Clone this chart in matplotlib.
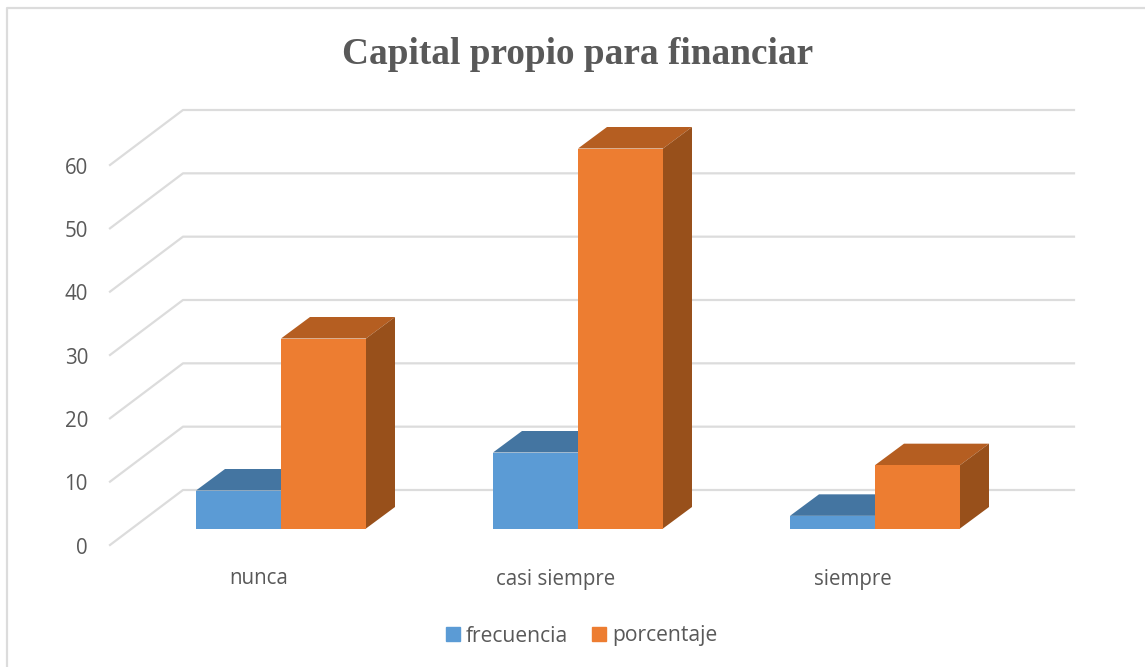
import matplotlib
matplotlib.use("Agg")
import matplotlib.pyplot as plt
from matplotlib.patches import Polygon, Patch
from matplotlib.transforms import Affine2D

categories = ["nunca", "casi siempre", "siempre"]
frecuencia = [6, 12, 2]
porcentaje = [30, 60, 10]
y_ticks = [0, 10, 20, 30, 40, 50, 60]

W, H = 1145, 667
BAR_W = 85 / 297
DEPTH = (29, 21.5)
FRONT = (-22.5, -16.5)
BACK = (50.5, 38.5)
GRID = "#dcdcdc"
TEXT = "#595959"

plt.rcParams["font.family"] = ["Open Sans", "DejaVu Sans"]

fig = plt.figure(figsize=(W / 100, H / 100), dpi=100)
ax = fig.add_axes([132.5 / W, (H - 528.5) / H, 891 / W, 380 / H])
ax.set_xlim(-0.5, 2.5)
ax.set_ylim(0, 60)
ax.axis("off")


def shifted(dx, dy):
    return ax.transData + Affine2D().translate(dx, dy)


def to_px(x, y, dx=0, dy=0):
    px, py = ax.transData.transform((x, y))
    return px + dx, py + dy


# chart frame, only left and top show up in the picture
fig.add_artist(plt.Line2D([6.5 / W, 6.5 / W, 1], [0, (H - 7.5) / H, (H - 7.5) / H],
                          color=GRID, lw=1.6, transform=fig.transFigure))

# walls: floor diagonal + back line for every tick
for t in y_ticks:
    a = to_px(-0.5, t, *FRONT)
    b = to_px(-0.5, t, *BACK)
    c = to_px(2.5, t, *BACK)
    ax.add_line(plt.Line2D([a[0], b[0], c[0]], [a[1], b[1], c[1]], color=GRID, lw=1.6,
                           transform=None, clip_on=False, zorder=1))
    ax.text(-0.5, t, str(t), transform=shifted(-44.5, -19.5), ha="right", va="center",
            fontsize=14.8, color=TEXT)


def draw_bar(x, value, front, top, side, z):
    left = x
    right = x + BAR_W
    ax.bar(left, value, BAR_W, align="edge", color=front, zorder=z + 0.2)
    p1 = to_px(left, value)
    p2 = to_px(right, value)
    p3 = to_px(right, value, *DEPTH)
    p4 = to_px(left, value, *DEPTH)
    ax.add_patch(Polygon([p1, p2, p3, p4], closed=True, color=top, lw=0,
                         transform=None, clip_on=False, zorder=z))
    p5 = to_px(right, 0)
    p6 = to_px(right, 0, *DEPTH)
    ax.add_patch(Polygon([p2, p5, p6, p3], closed=True, color=side, lw=0,
                         transform=None, clip_on=False, zorder=z))


for i, name in enumerate(categories):
    draw_bar(i - BAR_W, frecuencia[i], "#5b9bd5", "#4475a1", "#3a6591", 2 + i * 2)
    draw_bar(i, porcentaje[i], "#ed7d31", "#b55e21", "#98501b", 3 + i * 2)
    ax.text(i, 0, name, transform=shifted(-22, -50.5), ha="center", va="center",
            fontsize=14.8, color=TEXT)

fig.text(577.5 / W, (H - 54) / H, "Capital propio para financiar", ha="center", va="center",
         family="Liberation Serif", weight="bold", fontsize=26.85, color=TEXT)

handles = [Patch(color="#5b9bd5", label="frecuencia"), Patch(color="#ed7d31", label="porcentaje")]
fig.legend(handles=handles, ncol=2, loc="center", bbox_to_anchor=(581.5 / W, (H - 636) / H),
           frameon=False, fontsize=15.2, labelcolor=TEXT, handlelength=0.66, handleheight=0.66,
           handletextpad=0.3, columnspacing=1.1)

fig.savefig("out.png", dpi=100, facecolor="white")
